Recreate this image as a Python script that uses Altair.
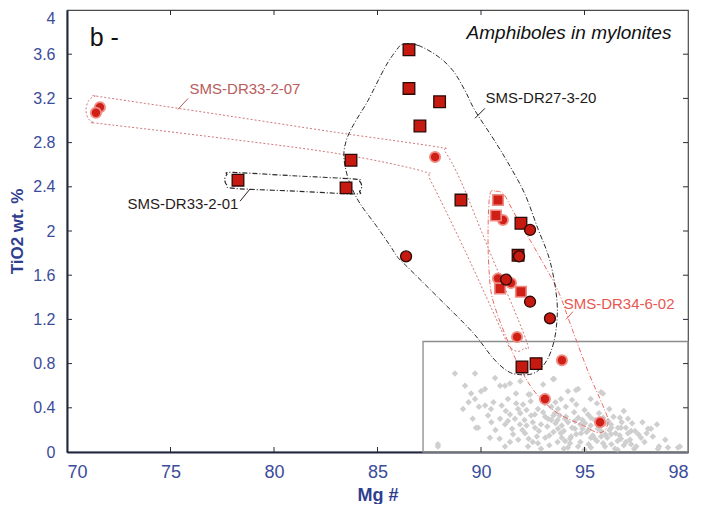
import altair as alt
import pandas as pd

# ---------------- axes ----------------
X_DOMAIN = [70, 100]
Y_DOMAIN = [0, 4]
X_TICKS = [70, 75, 80, 85, 90, 95, 100]
X_TICK_LABELS = ["70", "75", "80", "85", "90", "95", "98"]
Y_TICKS = [0, 0.4, 0.8, 1.2, 1.6, 2, 2.4, 2.8, 3.2, 3.6, 4]
Y_TICK_LABELS = ["0", "0.4", "0.8", "1.2", "1.6", "2", "2.4", "2.8", "3.2", "3.6", "4"]
X_TITLE = "Mg #"
Y_TITLE = "TiO2 wt. %"

# ---------------- samples ----------------
# dark-outlined squares (SMS-DR27-3-20 and SMS-DR33-2-01)
DARK_SQ_MG = [86.52, 86.52, 88.00, 87.05, 83.72, 83.48, 78.26, 89.03, 91.93, 91.79, 91.98, 92.66]
DARK_SQ_TI = [3.64, 3.29, 3.17, 2.95, 2.64, 2.39, 2.46, 2.28, 2.07, 1.78, 0.77, 0.80]
# dark-outlined circles (SMS-DR27-3-20)
DARK_CI_MG = [92.37, 91.84, 91.21, 92.37, 93.33, 86.38]
DARK_CI_TI = [2.01, 1.77, 1.56, 1.36, 1.21, 1.77]
# light circles (SMS-DR33-2-07 and SMS-DR34-6-02)
LIGHT_CI_MG = [71.59, 71.40, 87.78, 91.74, 91.06, 90.82, 91.45, 93.91, 93.09, 95.75]
LIGHT_CI_TI = [3.12, 3.07, 2.67, 1.04, 2.10, 1.57, 1.53, 0.83, 0.48, 0.27]
# light squares (SMS-DR34-6-02)
LIGHT_SQ_MG = [90.82, 90.72, 90.92, 91.93]
LIGHT_SQ_TI = [2.28, 2.14, 1.48, 1.45]

# grey reference field (diamonds)
GREY_MG = [88.74, 89.71, 90.68, 93.53, 89.23, 90.19, 90.92, 91.40, 92.37, 94.20, 94.59, 95.89,
           89.13, 89.86, 87.92, 90.43, 98.21, 99.52, 98.55, 97.25, 96.62,
           89.52, 89.71, 90.34, 90.48, 90.00, 91.16, 91.30, 90.92, 91.16, 91.40, 91.64, 91.88,
           91.79, 92.03, 91.69, 91.55, 92.13, 92.42, 92.61, 92.75, 93.09, 93.24, 93.57, 93.48,
           93.72, 92.75, 92.27, 91.16, 87.92, 89.76,
           94.69, 95.80, 93.86, 93.72, 95.17, 94.06, 94.54, 95.02, 95.31, 96.14, 96.28, 96.71,
           96.76, 97.10, 97.44, 98.07, 97.73, 93.86, 94.35, 94.83, 95.31, 95.80, 96.28, 96.76,
           97.25, 94.69, 95.31, 95.99, 96.47, 94.20, 99.03, 99.61, 95.65, 94.54, 94.06,
           91.0, 91.3, 91.5, 91.7, 91.9, 92.1, 92.2, 92.3, 92.5, 92.6, 92.8, 92.9, 93.0, 93.1,
           93.2, 93.3, 93.4, 93.5, 93.6, 93.7, 93.8, 93.9, 94.0, 94.1, 94.2, 94.3, 94.4, 94.5,
           94.6, 94.7, 94.8, 94.9, 95.0, 95.1, 95.2, 95.3, 95.4, 95.5, 95.6, 95.7, 95.8, 95.9,
           96.0, 96.1, 96.2, 96.3, 96.4, 96.5, 96.6, 96.8, 96.9, 97.0, 97.2, 97.3, 97.5, 97.6,
           97.9, 98.3, 98.6, 98.9, 92.4, 92.0, 91.4, 90.7, 90.5, 90.2, 89.6, 89.4, 93.6, 94.4,
           95.6, 96.9, 97.8, 93.1, 92.7, 94.0, 95.0, 96.6, 92.9, 93.9, 94.9, 95.9, 96.7, 97.4,
           91.8, 91.2, 90.9, 93.4, 94.6, 95.3, 92.3, 93.0, 91.9, 90.6, 89.9, 96.2, 97.1, 98.0, 98.5,
           92.5, 93.3, 94.1, 94.8, 95.5, 96.3, 97.0, 92.2, 93.7, 95.2, 96.0, 94.3, 93.5, 95.7]
GREY_TI = [0.71, 0.71, 0.67, 0.66, 0.60, 0.57, 0.60, 0.62, 0.52, 0.55, 0.56, 0.53,
           0.39, 0.22, 0.05, 0.13, 0.21, 0.04, 0.03, 0.19, 0.22,
           0.53, 0.48, 0.33, 0.39, 0.55, 0.60, 0.48, 0.30, 0.25, 0.34, 0.30, 0.25,
           0.39, 0.43, 0.53, 0.16, 0.17, 0.33, 0.22, 0.39, 0.44, 0.30, 0.35, 0.66,
           0.21, 0.08, 0.05, 0.05, 0.07, 0.22,
           0.57, 0.54, 0.48, 0.39, 0.34, 0.30, 0.28, 0.26, 0.31, 0.28, 0.25, 0.31,
           0.22, 0.17, 0.19, 0.21, 0.13, 0.17, 0.14, 0.17, 0.13, 0.14, 0.16, 0.12,
           0.07, 0.05, 0.04, 0.05, 0.03, 0.04, 0.04, 0.05, 0.21, 0.21, 0.10,
           0.42, 0.28, 0.21, 0.44, 0.35, 0.29, 0.38, 0.12, 0.27, 0.34, 0.19, 0.25, 0.36, 0.13,
           0.23, 0.06, 0.29, 0.18, 0.26, 0.09, 0.33, 0.24, 0.19, 0.41, 0.27, 0.08, 0.22, 0.36,
           0.16, 0.31, 0.09, 0.21, 0.38, 0.18, 0.07, 0.24, 0.15, 0.29, 0.10, 0.35, 0.19, 0.08,
           0.26, 0.13, 0.20, 0.07, 0.32, 0.17, 0.10, 0.27, 0.06, 0.22, 0.11, 0.26, 0.05, 0.16,
           0.09, 0.14, 0.05, 0.11, 0.46, 0.20, 0.09, 0.20, 0.27, 0.42, 0.30, 0.45, 0.45, 0.47,
           0.44, 0.37, 0.27, 0.32, 0.14, 0.03, 0.02, 0.02, 0.03, 0.13, 0.29, 0.31, 0.15, 0.03,
           0.11, 0.37, 0.12, 0.41, 0.43, 0.48, 0.52, 0.61, 0.64, 0.45, 0.41, 0.39, 0.30, 0.17, 0.25,
           0.09, 0.15, 0.32, 0.25, 0.12, 0.22, 0.09, 0.24, 0.29, 0.20, 0.16, 0.12, 0.33, 0.24]

# inset box of the reference field: Mg from, Mg to, TiO2 from, TiO2 to
INSET = [87.2, 100, 0, 1.0]

# ---------------- hand-drawn sample envelopes ----------------
ENV_DR27_MG = [86.23, 86.96, 87.92, 88.65, 89.23, 89.71, 90.68, 91.45, 92.13, 92.75, 93.33, 93.67,
               93.62, 93.38, 93.00, 92.51, 91.88, 91.30, 90.58, 89.61, 87.92, 86.47, 85.99, 85.60,
               84.93, 84.15, 83.67, 83.43, 83.38, 83.57, 83.96, 84.54, 85.36, 85.89]
ENV_DR27_TI = [3.69, 3.68, 3.58, 3.45, 3.27, 3.09, 2.81, 2.57, 2.33, 2.02, 1.73, 1.37,
               1.10, 0.91, 0.78, 0.71, 0.70, 0.73, 0.85, 1.08, 1.40, 1.67, 1.76, 1.87,
               2.05, 2.25, 2.43, 2.59, 2.72, 2.86, 3.00, 3.18, 3.48, 3.63]
ENV_DR3301_MG = [78.00, 80.90, 83.90, 84.14, 84.24, 84.14, 83.90, 81.10, 78.10, 77.75, 77.62, 77.72]
ENV_DR3301_TI = [2.53, 2.50, 2.47, 2.45, 2.405, 2.36, 2.335, 2.36, 2.385, 2.41, 2.46, 2.51]
ENV_DR3307_MG = [71.35, 71.80, 77.50, 83.09, 87.92, 88.26, 89.03, 90.34, 92.17, 92.08, 91.74,
                 91.35, 91.16, 89.23, 87.58, 87.20, 83.09, 77.50, 71.70, 71.30, 71.02, 70.92, 71.05]
ENV_DR3307_TI = [3.22, 3.21, 3.05, 2.89, 2.76, 2.72, 2.45, 1.85, 1.02, 0.94, 0.91,
                 0.96, 1.03, 1.82, 2.45, 2.54, 2.70, 2.84, 2.97, 2.98, 3.02, 3.10, 3.18]
ENV_DR34_MG = [90.43, 90.72, 91.11, 91.55, 92.27, 93.00, 93.72, 94.35, 95.17, 95.89, 96.14, 95.94,
               95.56, 94.93, 93.72, 92.75, 92.03, 91.30, 90.58, 90.39, 90.34]
ENV_DR34_TI = [2.33, 2.36, 2.33, 2.18, 1.95, 1.71, 1.46, 1.14, 0.73, 0.42, 0.28, 0.19,
               0.18, 0.24, 0.35, 0.51, 0.71, 1.00, 1.37, 1.64, 2.00]

# ---------------- labels ----------------
LABEL_TEXT = ["SMS-DR27-3-20", "SMS-DR33-2-07", "SMS-DR33-2-01", "SMS-DR34-6-02"]
LABEL_MG = [92.9, 78.6, 75.6, 96.67]
LABEL_TI = [3.20, 3.285, 2.24, 1.34]
LABEL_COLOR = ["#1e1a1a", "#b85c5c", "#2a1c1c", "#e8574f"]
LEADER_MG1 = [89.71, 75.36, 78.36, 94.11]
LEADER_TI1 = [3.02, 3.10, 2.27, 1.20]
LEADER_MG2 = [90.19, 75.85, 78.84, 94.44]
LEADER_TI2 = [3.11, 3.20, 2.38, 1.27]
PANEL_TEXT = "b -"
PANEL_POS = [71.1, 3.75]
TITLE_TEXT = "Amphiboles in mylonites"
TITLE_POS = [99.2, 3.79]

# ---------------- chart ----------------
W, H = 621, 442
FONT = "Liberation Sans"
LABEL_BLUE = "#3b4c9b"
TITLE_BLUE = "#2f3e8e"


def label_expr(values, labels):
    expr = "''"
    for v, l in zip(values, labels):
        expr = f"datum.value == {v} ? '{l}' : ({expr})"
    return expr


xs = alt.Scale(domain=X_DOMAIN, nice=False, zero=False)
ys = alt.Scale(domain=Y_DOMAIN, nice=False, zero=False)

x_axis = alt.Axis(values=X_TICKS, labelExpr=label_expr(X_TICKS, X_TICK_LABELS), ticks=False,
                  grid=False, domainColor="#1f2640", domainWidth=2, labelFont=FONT,
                  labelFontSize=18, labelColor=LABEL_BLUE, labelPadding=11,
                  labelOverlap=False, title=X_TITLE,
                  titleFont=FONT, titleFontSize=18, titleFontWeight="bold", titleColor=TITLE_BLUE,
                  titlePadding=5)
y_axis = alt.Axis(values=Y_TICKS, labelExpr=label_expr(Y_TICKS, Y_TICK_LABELS), ticks=False,
                  grid=False, domainColor="#1f2640", domainWidth=2, labelFont=FONT,
                  labelFontSize=16, labelColor=LABEL_BLUE, labelPadding=12,
                  labelOverlap=False, title=Y_TITLE,
                  labelBaseline={"condition": {"test": "datum.value == 4", "value": "top"},
                                 "value": "middle"},
                  titleFont=FONT, titleFontSize=17, titleFontWeight="bold", titleColor=TITLE_BLUE,
                  titlePadding=6)

grey_df = pd.DataFrame({"mg": GREY_MG, "tio2": GREY_TI})
grey = alt.Chart(grey_df).mark_point(shape="diamond", filled=True, size=42, color="#cfcfcf",
                                     opacity=1).encode(
    x=alt.X("mg:Q", scale=xs, axis=x_axis),
    y=alt.Y("tio2:Q", scale=ys, axis=y_axis),
)

inset_df = pd.DataFrame({"mg": [INSET[0]], "mg2": [INSET[1]], "tio2": [INSET[2]], "tio22": [INSET[3]]})
inset = alt.Chart(inset_df).mark_rect(fillOpacity=0, stroke="#8c8c8c", strokeWidth=1.3).encode(
    x=alt.X("mg:Q"), x2="mg2:Q",
    y=alt.Y("tio2:Q"), y2="tio22:Q",
)


def envelope(mg, ti, color, dash, width=1.0):
    df = pd.DataFrame({"mg": mg, "tio2": ti, "i": list(range(len(mg)))})
    return alt.Chart(df).mark_line(interpolate="cardinal-closed", color=color, strokeDash=dash,
                                   strokeWidth=width).encode(
        x=alt.X("mg:Q"),
        y=alt.Y("tio2:Q"),
        order="i:Q",
    )


env27 = envelope(ENV_DR27_MG, ENV_DR27_TI, "#2a2a2a", [5, 2, 1, 2])
env3301 = envelope(ENV_DR3301_MG, ENV_DR3301_TI, "#2a2a2a", [5, 2, 1, 2], 1.2)
env3307 = envelope(ENV_DR3307_MG, ENV_DR3307_TI, "#d07a7a", [2, 2])
env34 = envelope(ENV_DR34_MG, ENV_DR34_TI, "#ea6a62", [5, 2, 1, 2])


def markers(mg, ti, shape, fill, stroke, sw, size):
    df = pd.DataFrame({"mg": mg, "tio2": ti})
    return alt.Chart(df).mark_point(shape=shape, filled=True, fill=fill, stroke=stroke,
                                    strokeWidth=sw, size=size, opacity=1).encode(
        x=alt.X("mg:Q"),
        y=alt.Y("tio2:Q"),
    )


light_ci = markers(LIGHT_CI_MG, LIGHT_CI_TI, "circle", "#d01f17", "#ee8b83", 1.8, 105)
light_sq = markers(LIGHT_SQ_MG, LIGHT_SQ_TI, "square", "#d01f17", "#ee8b83", 1.6, 110)
dark_sq = markers(DARK_SQ_MG, DARK_SQ_TI, "square", "#c6190f", "#2b0906", 1.3, 135)
dark_ci = markers(DARK_CI_MG, DARK_CI_TI, "circle", "#c6190f", "#2b0906", 1.3, 120)

lab_df = pd.DataFrame({"mg": LABEL_MG, "tio2": LABEL_TI, "text": LABEL_TEXT, "col": LABEL_COLOR})
labels = alt.Chart(lab_df).mark_text(font=FONT, fontSize=15, align="center",
                                     baseline="middle").encode(
    x=alt.X("mg:Q"),
    y=alt.Y("tio2:Q"),
    text="text:N",
    color=alt.Color("col:N", scale=None),
)
lead_df = pd.DataFrame({"mg": LEADER_MG1, "tio2": LEADER_TI1, "mg2": LEADER_MG2, "tio22": LEADER_TI2,
                        "col": LABEL_COLOR})
leaders = alt.Chart(lead_df).mark_rule(strokeWidth=1).encode(
    x=alt.X("mg:Q"), y=alt.Y("tio2:Q"),
    x2="mg2:Q", y2="tio22:Q",
    color=alt.Color("col:N", scale=None),
)

panel_df = pd.DataFrame({"mg": [PANEL_POS[0]], "tio2": [PANEL_POS[1]], "text": [PANEL_TEXT]})
panel = alt.Chart(panel_df).mark_text(font=FONT, fontSize=25, align="left", baseline="middle",
                                      color="#111111").encode(
    x=alt.X("mg:Q"), y=alt.Y("tio2:Q"), text="text:N")
title_df = pd.DataFrame({"mg": [TITLE_POS[0]], "tio2": [TITLE_POS[1]], "text": [TITLE_TEXT]})
title = alt.Chart(title_df).mark_text(font=FONT, fontSize=19, fontStyle="italic", align="right",
                                      baseline="middle", color="#111111").encode(
    x=alt.X("mg:Q"), y=alt.Y("tio2:Q"), text="text:N")

# inward tick marks on all four sides
xt_df = pd.DataFrame({"mg": X_TICKS[1:-1]})
yt_df = pd.DataFrame({"tio2": Y_TICKS[1:-1]})
TICK = "#2a2a3a"
tb = alt.Chart(xt_df).mark_rule(color=TICK, strokeWidth=1).encode(
    x=alt.X("mg:Q"), y=alt.value(H), y2=alt.value(H - 5))
tt = alt.Chart(xt_df).mark_rule(color=TICK, strokeWidth=1).encode(
    x=alt.X("mg:Q"), y=alt.value(0), y2=alt.value(5))
tl = alt.Chart(yt_df).mark_rule(color=TICK, strokeWidth=1).encode(
    y=alt.Y("tio2:Q"), x=alt.value(0), x2=alt.value(5))
tr = alt.Chart(yt_df).mark_rule(color=TICK, strokeWidth=1).encode(
    y=alt.Y("tio2:Q"), x=alt.value(W), x2=alt.value(W - 5))

chart = alt.layer(
    grey, inset, env3307, env34, env27, env3301,
    light_ci, light_sq, dark_sq, dark_ci,
    leaders, labels, panel, title, tb, tt, tl, tr,
).properties(
    width=W, height=H,
    padding={"left": 8, "top": 9, "right": 3, "bottom": 0},
    background="white",
).configure_view(stroke="#4a4a4a", strokeWidth=1.2)

chart.save("out.html", embed_options={"renderer": "svg", "actions": False})
